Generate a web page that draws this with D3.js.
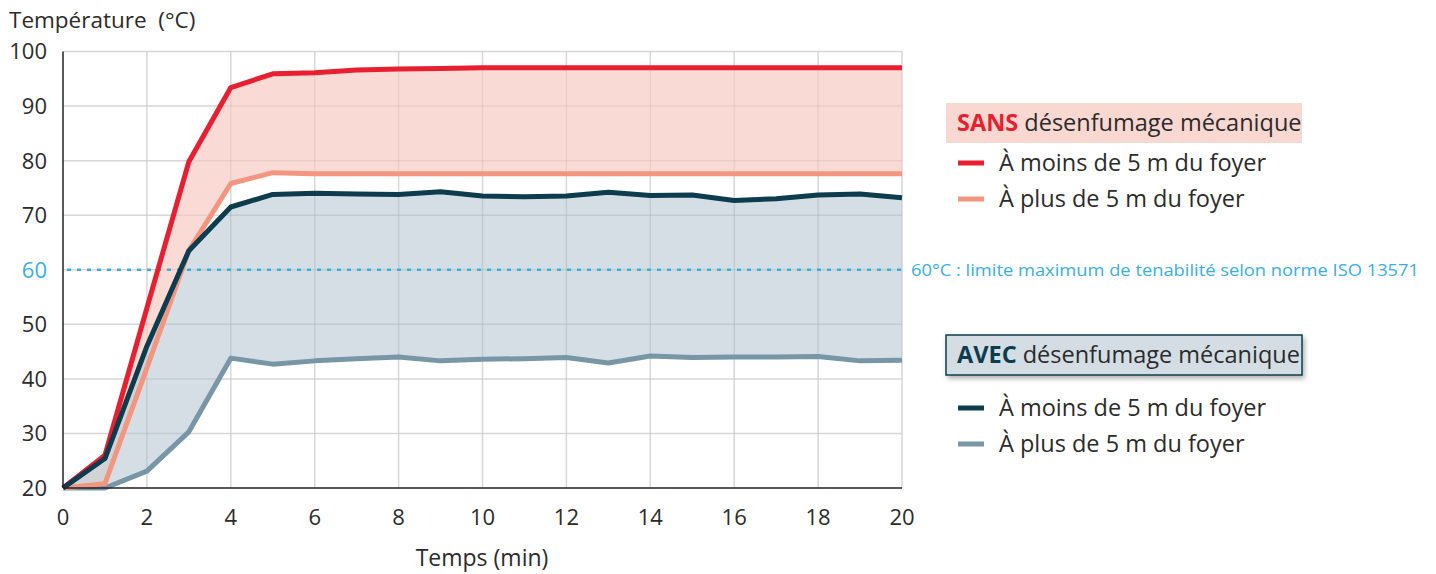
<!DOCTYPE html>
<html><head><meta charset="utf-8">
<script src="https://cdn.jsdelivr.net/npm/d3@7"></script>
<style>
body{margin:0;background:#fff;}
text{font-family:"Open Sans","Noto Sans",sans-serif;}
</style></head>
<body><svg id="c" width="1436" height="574"></svg>
<script>
const minutes = d3.range(0, 21);
const sansMoins = [20,26,53,79.8,93.4,95.9,96.1,96.6,96.8,96.9,97,97,97,97,97,97,97,97,97,97,97];
const sansPlus  = [20,20.8,42,63.5,75.8,77.8,77.6,77.6,77.6,77.6,77.6,77.6,77.6,77.6,77.6,77.6,77.6,77.6,77.6,77.6,77.6];
const avecMoins = [20,25.4,46,63.5,71.5,73.8,74.0,73.9,73.8,74.3,73.5,73.4,73.5,74.2,73.6,73.7,72.7,73.0,73.7,73.9,73.2];
const avecPlus  = [20,20,23.1,30.3,43.8,42.7,43.3,43.7,44.0,43.3,43.6,43.7,43.9,42.9,44.2,43.9,44.0,44.0,44.1,43.3,43.4];
const xTicks = [0,2,4,6,8,10,12,14,16,18,20];
const yTicks = [20,30,40,50,60,70,80,90,100];
const limit = 60;
const legendItems = ["À moins de 5 m du foyer","À plus de 5 m du foyer"];

const svg = d3.select("#c");
const x = d3.scaleLinear().domain([0,20]).range([63,902]);
const y = d3.scaleLinear().domain([20,100]).range([488,51.5]);

const C = {red:"#e71f30", salmon:"#f29680", dark:"#0c3c4d", grey:"#7896a5",
           pink:"#f9d8d2", greyFill:"#d3dde3", blue:"#3aaee0", text:"#2b2b2b"};

// grid
svg.append("g").selectAll("line").data(yTicks.filter(d=>d>20)).join("line")
  .attr("x1",x(0)).attr("x2",x(20)).attr("y1",d=>y(d)).attr("y2",d=>y(d))
  .attr("stroke","#e3e3e3").attr("stroke-width",1.5);
svg.append("g").selectAll("line").data(xTicks.filter(d=>d>0)).join("line")
  .attr("x1",d=>x(d)).attr("x2",d=>x(d)).attr("y1",y(20)).attr("y2",y(100))
  .attr("stroke","#e3e3e3").attr("stroke-width",1.5);

const data = minutes.map((m,i)=>({m, sm:sansMoins[i], sp:sansPlus[i], am:avecMoins[i], ap:avecPlus[i]}));

// areas
svg.append("path").datum(data)
  .attr("d", d3.area().x(d=>x(d.m)).y0(d=>y(d.sp)).y1(d=>y(d.sm)))
  .attr("fill", C.pink).attr("fill-opacity",0.95);
svg.append("path").datum(data)
  .attr("d", d3.area().x(d=>x(d.m)).y0(d=>y(d.ap)).y1(d=>y(d.am)))
  .attr("fill", "#c2d0d8").attr("fill-opacity",0.7);

// grid over fills (faint)
svg.append("g").selectAll("line").data(yTicks.filter(d=>d>20)).join("line")
  .attr("x1",x(0)).attr("x2",x(20)).attr("y1",d=>y(d)).attr("y2",d=>y(d))
  .attr("stroke","#000").attr("stroke-opacity",0.05).attr("stroke-width",1.5);
svg.append("g").selectAll("line").data(xTicks.filter(d=>d>0)).join("line")
  .attr("x1",d=>x(d)).attr("x2",d=>x(d)).attr("y1",y(20)).attr("y2",y(100))
  .attr("stroke","#000").attr("stroke-opacity",0.05).attr("stroke-width",1.5);

// limit line
svg.append("line").attr("x1",x(0)+4).attr("x2",x(20)).attr("y1",y(limit)).attr("y2",y(limit))
  .attr("stroke",C.blue).attr("stroke-width",2.5).attr("stroke-dasharray","4,6");

// lines
const line = key => d3.line().x(d=>x(d.m)).y(d=>y(d[key]));
[["ap",C.grey],["sp",C.salmon],["sm",C.red],["am",C.dark]].forEach(([k,c])=>{
  svg.append("path").datum(data).attr("d",line(k)).attr("fill","none")
    .attr("stroke",c).attr("stroke-width",5).attr("stroke-linejoin","round");
});

// axes
svg.append("line").attr("x1",x(0)).attr("x2",x(0)).attr("y1",y(20)).attr("y2",y(100)).attr("stroke","#222").attr("stroke-width",1.5);
svg.append("line").attr("x1",x(0)).attr("x2",x(20)).attr("y1",y(20)).attr("y2",y(20)).attr("stroke","#222").attr("stroke-width",1.5);

svg.append("g").selectAll("text").data(yTicks).join("text")
  .attr("x",47).attr("y",d=>y(d)).attr("dy","0.36em").attr("text-anchor","end")
  .attr("font-size",22).attr("fill",d=>d===limit?C.blue:C.text).text(d=>d);
svg.append("g").selectAll("text").data(xTicks).join("text")
  .attr("x",d=>x(d)).attr("y",517).attr("dy","0.36em").attr("text-anchor","middle")
  .attr("font-size",22).attr("fill",C.text).text(d=>d);

svg.append("text").attr("x",9).attr("y",28).attr("font-size",22.5).attr("fill",C.text)
  .attr("xml:space","preserve").text("Température  (°C)");
svg.append("text").attr("x",482).attr("y",566).attr("text-anchor","middle").attr("font-size",23).attr("fill",C.text).text("Temps (min)");

svg.append("text").attr("x",911).attr("y",y(limit)).attr("dy","0.36em").attr("font-size",16.5)
  .attr("fill",C.blue).attr("textLength",508).attr("lengthAdjust","spacingAndGlyphs")
  .text("60°C : limite maximum de tenabilité selon norme ISO 13571");

// legends
const defs = svg.append("defs");
const f = defs.append("filter").attr("id","sh").attr("x","-10%").attr("y","-20%").attr("width","130%").attr("height","160%");
f.append("feDropShadow").attr("dx",2).attr("dy",3).attr("stdDeviation",2.5).attr("flood-color","#000").attr("flood-opacity",0.3);

function legend(y0, itemOffset, bold, boldColor, boxFill, boxStroke, colors){
  const g = svg.append("g");
  const r = g.append("rect").attr("x",946).attr("y",y0).attr("width",356).attr("height",40).attr("fill",boxFill);
  if(boxStroke){ r.attr("stroke",boxStroke).attr("stroke-width",1.5).attr("filter","url(#sh)"); }
  const t = g.append("text").attr("x",957).attr("y",y0+28).attr("font-size",23.5).attr("fill",C.text);
  t.append("tspan").attr("font-weight","bold").attr("fill",boldColor).text(bold);
  t.append("tspan").text(" désenfumage mécanique");
  legendItems.forEach((s,i)=>{
    const yy = y0+itemOffset+i*36;
    g.append("line").attr("x1",958).attr("x2",984).attr("y1",yy).attr("y2",yy).attr("stroke",colors[i]).attr("stroke-width",5);
    g.append("text").attr("x",999).attr("y",yy).attr("dy","0.36em").attr("font-size",23.5).attr("fill",C.text).text(s);
  });
}
legend(103,60,"SANS",C.red,C.pink,null,[C.red,C.salmon]);
legend(335,73,"AVEC",C.dark,C.greyFill,C.dark,[C.dark,C.grey]);
</script></body></html>
